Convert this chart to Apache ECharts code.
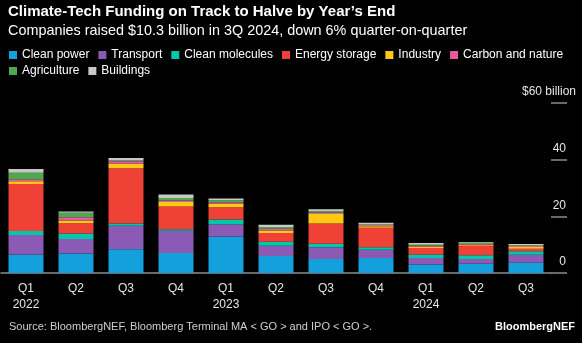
<!DOCTYPE html>
<html>
<head>
<meta charset="utf-8">
<script src="https://cdn.jsdelivr.net/npm/echarts@6/dist/echarts.min.js"></script>
<style>
html,body{margin:0;padding:0;background:#000;}
#chart{width:582px;height:343px;}
</style>
</head>
<body>
<div id="chart"></div>
<script>
const categories = ['Q1\n2022','Q2','Q3','Q4','Q1\n2023','Q2','Q3','Q4','Q1\n2024','Q2','Q3'];
const cleanPower     = [6.5, 6.9, 8.4, 7.1, 12.9, 6.0, 4.9, 5.3, 3.0, 3.3, 3.6];
const transport      = [6.9, 5.1, 8.3, 7.8, 4.3, 3.6, 4.2, 2.9, 2.3, 1.6, 2.8];
const cleanMolecules = [1.4, 1.9, 0.8, 0.5, 1.7, 1.4, 1.2, 0.9, 1.2, 1.4, 1.3];
const energyStorage  = [16.6, 3.7, 19.5, 8.1, 4.3, 3.1, 7.2, 6.9, 2.3, 3.3, 0.9];
const industry       = [1.0, 0.9, 1.6, 1.6, 1.2, 0.9, 3.3, 0.5, 0.5, 0.35, 0.6];
const carbonNature   = [0.7, 1.2, 0.8, 0.5, 0.6, 0.6, 0.5, 0.4, 0.35, 0.25, 0.3];
const agriculture    = [2.3, 1.6, 0.3, 0.9, 0.7, 0.6, 0.5, 0.4, 0.35, 0.5, 0.3];
const buildings      = [1.3, 0.4, 0.9, 1.2, 0.6, 0.8, 0.7, 0.4, 0.6, 0.25, 0.4];
const yTicks = [0, 20, 40, 60];

const FONT = 'Liberation Sans, Arial, sans-serif';
const seriesDefs = [
  ['Clean power', cleanPower, '#13a0dc'],
  ['Transport', transport, '#8a5ab4'],
  ['Clean molecules', cleanMolecules, '#00c8aa'],
  ['Energy storage', energyStorage, '#f04137'],
  ['Industry', industry, '#ffc814'],
  ['Carbon and nature', carbonNature, '#e65aa0'],
  ['Agriculture', agriculture, '#4baa4b'],
  ['Buildings', buildings, '#c8c8c8']
];

const chart = echarts.init(document.getElementById('chart'), null, {renderer:'canvas'});
const legendCommon = {
  icon: 'rect', itemWidth: 8, itemHeight: 8, itemGap: 9, left: 9,
  textStyle: {color: '#fff', fontSize: 12, fontFamily: FONT},
  selectedMode: false, padding: 0
};
chart.setOption({
  backgroundColor: '#000',
  animation: false,
  title: [
    {text: 'Climate-Tech Funding on Track to Halve by Year\u2019s End', left: 8, top: 4, padding: 0,
     textStyle: {color: '#fff', fontSize: 15, fontWeight: 'bold', fontFamily: FONT}},
    {text: 'Companies raised $10.3 billion in 3Q 2024, down 6% quarter-on-quarter', left: 8, top: 24, padding: 0,
     textStyle: {color: '#fff', fontSize: 14.4, fontWeight: 'normal', fontFamily: FONT}},
    {text: 'Source: BloombergNEF, Bloomberg Terminal MA < GO > and IPO < GO >.', left: 9, top: 321, padding: 0,
     textStyle: {color: '#d0d0d0', fontSize: 11, fontWeight: 'normal', fontFamily: FONT}},
    {text: 'BloombergNEF', right: 7, top: 321, padding: 0,
     textStyle: {color: '#fff', fontSize: 11, fontWeight: 'bold', fontFamily: FONT}}
  ],
  legend: [
    Object.assign({top: 49, data: seriesDefs.slice(0, 6).map(d => d[0])}, legendCommon),
    Object.assign({top: 65, data: seriesDefs.slice(6).map(d => d[0])}, legendCommon)
  ],
  grid: {left: 1, right: 31, top: 103, bottom: 70},
  xAxis: {
    type: 'category', data: categories,
    axisLine: {lineStyle: {color: '#8c8c8c', width: 1.5}},
    axisTick: {alignWithLabel: true, length: 4, lineStyle: {color: '#8c8c8c'}},
    axisLabel: {color: '#e6e6e6', fontSize: 12, fontFamily: FONT, lineHeight: 16, margin: 8, interval: 0}
  },
  yAxis: {
    type: 'value', position: 'right', min: 0, max: 60, interval: 20,
    splitLine: {show: false},
    axisLine: {show: false},
    axisTick: {show: true, length: 16, lineStyle: {color: '#8c8c8c', width: 1.5}},
    axisLabel: {
      margin: 25, align: 'right', verticalAlign: 'bottom',
      formatter: v => v === 60 ? '{u|$60 billion}' : '{n|' + v + '}',
      rich: {
        u: {color: '#e6e6e6', fontSize: 12, fontFamily: FONT, padding: [0, 0, 5, 0]},
        n: {color: '#e6e6e6', fontSize: 12, fontFamily: FONT, padding: [0, 10, 5, 0]}
      }
    }
  },
  series: seriesDefs.map(d => ({
    name: d[0], type: 'bar', stack: 'total', data: d[1], barWidth: '70%',
    itemStyle: {color: d[2], borderWidth: 0}
  }))
});
</script>
</body>
</html>
